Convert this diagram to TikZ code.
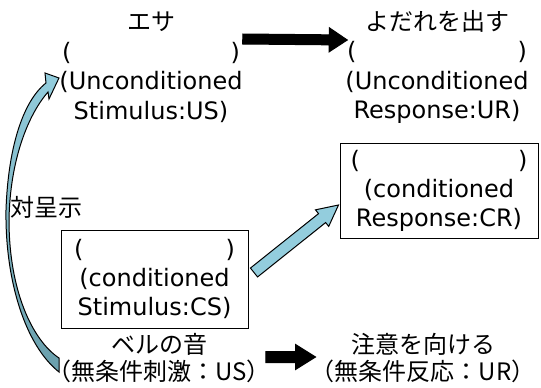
\documentclass[tikz,border=0pt]{standalone}
\usepackage{fontspec}
\setmainfont{DejaVu Sans}
\newfontfamily\jp{Noto Sans CJK JP}
\usetikzlibrary{calc}

\definecolor{aqua}{HTML}{93CDDD}
\definecolor{aquadark}{HTML}{6A9FAC}

% block arrow: [fill]{tail}{tip}{half shaft}{head length}{half head}
\newcommand{\blockarrow}[6][black]{%
  \coordinate (ba) at ($(#3)!#5!(#2)$);
  \filldraw[fill=#1, draw=black, line width=1pt, line join=miter]
    ($(#2)!#4!90:(#3)$) -- ($(ba)!#4!90:(#3)$) -- ($(ba)!#6!90:(#3)$) -- (#3)
    -- ($(ba)!#6!-90:(#3)$) -- ($(ba)!#4!-90:(#3)$) -- ($(#2)!#4!-90:(#3)$) -- cycle;
}

\begin{document}
\begin{tikzpicture}[x=1pt, y=-1pt,
    txt/.style={align=center, inner sep=0pt, font=\fontsize{24}{29.5}\selectfont},
    jtxt/.style={txt, font=\fontsize{24}{27}\selectfont\jp},
    box/.style={txt, draw, line width=1pt, font=\fontsize{24}{29}\selectfont}]
    \useasboundingbox (0,0) rectangle (541,388);

    \node[txt] (us) at (151,67) {{\jp エサ}\\\makebox[178pt]{(\hfill)}\\(Unconditioned\\Stimulus:US)};
    \node[txt] (ur) at (437,67) {{\jp よだれを出す}\\\makebox[180pt]{(\hfill)}\\(Unconditioned\\Response:UR)};

    \node[box, minimum width=198pt, minimum height=95pt] (cr) at (439,190.5)
        {\makebox[177pt]{(\hfill)}\\(conditioned\\Response:CR)};
    \node[box, minimum width=187pt, minimum height=98pt] (cs) at (154.5,279)
        {\makebox[161pt]{(\hfill)}\\(conditioned\\Stimulus:CS)};

    \node[jtxt] (bell) at (159,358) {ベルの音\\（無条件刺激：US）};
    \node[jtxt] (attn) at (423,358) {注意を向ける\\（無条件反応：UR）};
    \node[jtxt] (pair) at (46,207) {対呈示};

    % arrows
    \coordinate (usout) at (us.east |- 0,39);
    \coordinate (urin) at ($(ur.west |- 0,40)+(2,0)$);
    \blockarrow{usout}{urin}{5pt}{18pt}{12pt}

    \coordinate (csout) at ($(cs.east)+(5.5,-6.5)$);
    \coordinate (crin) at ($(cr.west)+(-1,14.5)$);
    \blockarrow[aqua]{csout}{crin}{5.7pt}{21pt}{10.6pt}

    \coordinate (bellout) at ($(bell.east |- 0,357)+(-5,0)$);
    \coordinate (attnin) at ($(attn.west |- 0,357)+(5,0)$);
    \blockarrow{bellout}{attnin}{5.5pt}{20pt}{12.5pt}

    % curved arrow
    \shadedraw[top color=aqua, bottom color=aquadark, line width=1pt, line join=miter]
        (59,78) -- (45,73) -- (46,83)
        .. controls (22,102) and (8,150) .. (6,210)
        .. controls (5,280) and (25,345) .. (59,372)
        -- (59,358)
        .. controls (32,340) and (9,290) .. (9,220)
        .. controls (10,160) and (28,115) .. (48,92)
        -- (49,99) -- cycle;
\end{tikzpicture}
\end{document}
